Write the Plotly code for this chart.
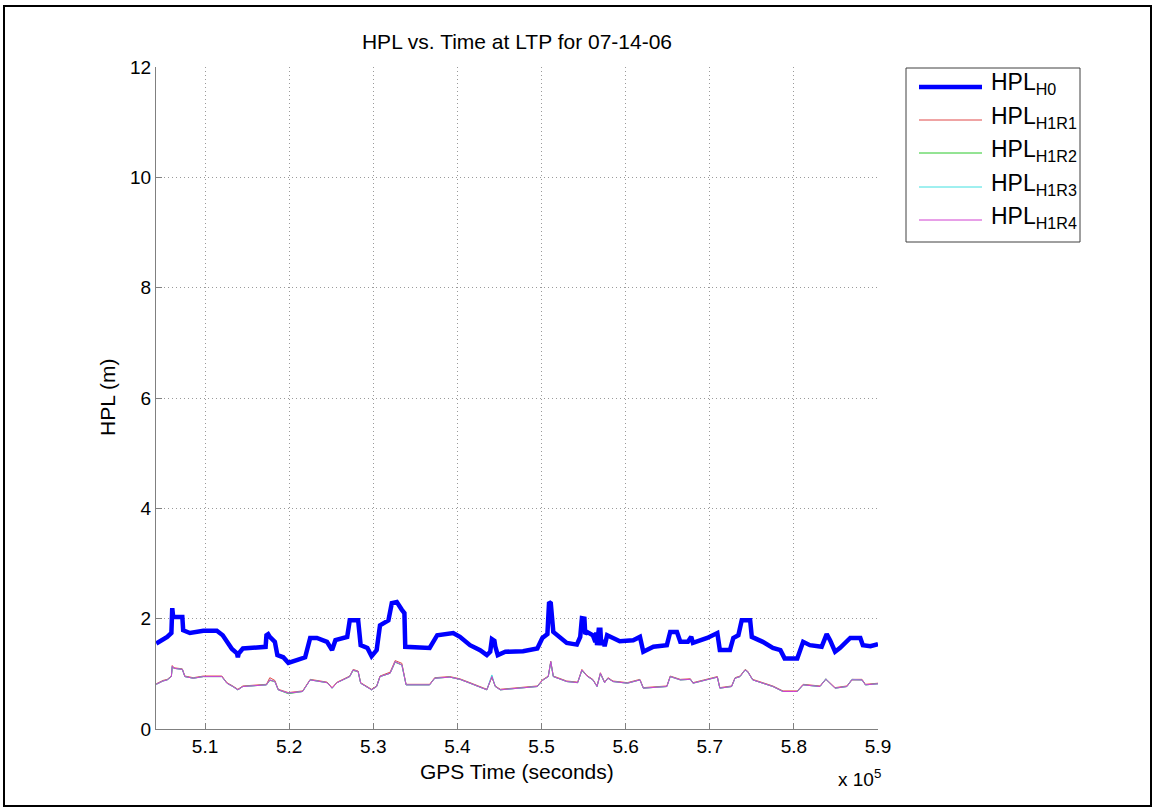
import plotly.graph_objects as go

# GPS time (s) and horizontal protection level (m), fault-free hypothesis H0
t_h0 = [504200, 505000, 505500, 506000, 506100, 506200, 506300, 507300, 507400, 508200,
        509800, 511400, 512100, 512700, 513200, 513800, 513900, 514000, 514500, 517200,
        517300, 517500, 517700, 518300, 518600, 519300, 519900, 520900, 521900, 522500,
        523300, 524500, 525100, 525500, 526900, 527200, 528200, 528500, 529300, 529800,
        530400, 530800, 531400, 531800, 532200, 532800, 533400, 533700, 533800, 535200,
        536700, 537600, 539100, 539500, 540300, 541500, 542700, 543500, 543900, 544100,
        544400, 544500, 544800, 545700, 547800, 549500, 550100, 550700, 550900, 551100,
        551400, 552200, 553000, 554200, 554600, 554800, 555100, 555200, 555400, 556100,
        556400, 556500, 556600, 556800, 557000, 557100, 557300, 557500, 557800, 558500,
        559300, 560900, 561700, 562100, 563300, 564900, 565300, 566100, 566500, 567400,
        567800, 568000, 569700, 570900, 571200, 572400, 572800, 573400, 573800, 574800,
        575000, 576300, 577500, 578400, 578900, 580400, 581100, 581900, 583300, 583900,
        584300, 584900, 585500, 586700, 587900, 588200, 589100, 590000]
hpl_h0 = [1.55, 1.62, 1.67, 1.74, 2.19, 2.05, 2.03, 2.03, 1.79, 1.74,
          1.78, 1.78, 1.70, 1.55, 1.45, 1.37, 1.30, 1.37, 1.46, 1.49,
          1.70, 1.72, 1.67, 1.58, 1.34, 1.30, 1.20, 1.25, 1.30, 1.65,
          1.65, 1.58, 1.43, 1.61, 1.67, 1.97, 1.97, 1.52, 1.47, 1.32,
          1.43, 1.88, 1.94, 1.97, 2.28, 2.30, 2.16, 2.10, 1.49, 1.49,
          1.47, 1.70, 1.74, 1.74, 1.67, 1.52, 1.43, 1.34, 1.40, 1.63,
          1.60, 1.50, 1.34, 1.40, 1.41, 1.46, 1.65, 1.72, 2.30, 2.28,
          1.76, 1.67, 1.56, 1.53, 1.67, 2.01, 2.00, 1.72, 1.76, 1.70,
          1.58, 1.75, 1.52, 1.80, 1.80, 1.52, 1.61, 1.50, 1.70, 1.65,
          1.59, 1.61, 1.67, 1.40, 1.49, 1.52, 1.76, 1.76, 1.58, 1.58,
          1.67, 1.56, 1.65, 1.74, 1.43, 1.43, 1.65, 1.70, 1.97, 1.97,
          1.67, 1.58, 1.47, 1.43, 1.28, 1.28, 1.58, 1.52, 1.49, 1.72,
          1.61, 1.40, 1.47, 1.65, 1.65, 1.52, 1.50, 1.54]

# GPS time (s) for the four single-receiver-fault hypotheses H1R1..H1R4
t_h1 = [504200, 505000, 505500, 506000, 506100, 506300, 507300, 507600, 508600, 509800,
        512000, 512600, 513300, 513900, 514500, 517300, 517700, 518300, 518700, 519900,
        521600, 522500, 524500, 525100, 525700, 527200, 527600, 528200, 528500, 529800,
        530400, 530800, 532000, 532600, 533400, 533900, 536700, 537300, 539100, 540300,
        541500, 543500, 544100, 544500, 545100, 549500, 550100, 550800, 551100, 551400,
        553000, 554300, 554800, 555400, 556100, 556600, 557000, 557500, 557900, 558500,
        560200, 561700, 562100, 564900, 565300, 566500, 567700, 568000, 570900, 571200,
        572600, 573000, 573600, 574200, 574500, 575100, 577500, 578700, 580400, 581100,
        583100, 583800, 584900, 586300, 586900, 588100, 588500, 590000]
hpl_h1r1 = [0.82, 0.88, 0.90, 0.96, 1.15, 1.11, 1.09, 0.96, 0.93, 0.96,
            0.96, 0.84, 0.78, 0.72, 0.78, 0.81, 0.93, 0.88, 0.72, 0.66,
            0.69, 0.90, 0.85, 0.75, 0.85, 0.96, 1.08, 1.05, 0.84, 0.72,
            0.78, 0.96, 1.03, 1.24, 1.19, 0.81, 0.81, 0.93, 0.95, 0.91,
            0.84, 0.72, 0.94, 0.78, 0.72, 0.78, 0.89, 0.96, 1.23, 0.96,
            0.87, 0.85, 1.08, 0.97, 0.90, 0.78, 1.02, 0.85, 0.93, 0.87,
            0.84, 0.90, 0.75, 0.78, 0.96, 0.90, 0.91, 0.84, 0.95, 0.75,
            0.78, 0.93, 0.96, 1.08, 1.05, 0.90, 0.78, 0.69, 0.69, 0.81,
            0.78, 0.91, 0.75, 0.78, 0.90, 0.90, 0.81, 0.83]
hpl_h1r2 = [0.81, 0.87, 0.89, 0.95, 1.13, 1.10, 1.08, 0.95, 0.92, 0.95,
            0.95, 0.83, 0.77, 0.71, 0.77, 0.80, 0.88, 0.86, 0.71, 0.64,
            0.68, 0.89, 0.84, 0.74, 0.84, 0.95, 1.06, 1.04, 0.83, 0.71,
            0.77, 0.95, 1.01, 1.21, 1.16, 0.80, 0.80, 0.92, 0.94, 0.90,
            0.83, 0.71, 0.95, 0.77, 0.71, 0.77, 0.88, 0.95, 1.21, 0.95,
            0.86, 0.84, 1.06, 0.96, 0.89, 0.77, 1.00, 0.84, 0.92, 0.86,
            0.83, 0.89, 0.74, 0.77, 0.95, 0.89, 0.90, 0.83, 0.94, 0.74,
            0.77, 0.92, 0.95, 1.07, 1.04, 0.89, 0.77, 0.68, 0.68, 0.80,
            0.77, 0.90, 0.74, 0.77, 0.89, 0.89, 0.80, 0.82]
hpl_h1r3 = [0.81, 0.87, 0.89, 0.95, 1.14, 1.10, 1.08, 0.95, 0.92, 0.95,
            0.95, 0.83, 0.77, 0.71, 0.77, 0.80, 0.89, 0.86, 0.71, 0.65,
            0.68, 0.89, 0.84, 0.74, 0.84, 0.95, 1.07, 1.04, 0.83, 0.71,
            0.77, 0.95, 1.01, 1.22, 1.16, 0.80, 0.80, 0.92, 0.94, 0.90,
            0.83, 0.71, 0.98, 0.77, 0.71, 0.77, 0.88, 0.95, 1.22, 0.95,
            0.86, 0.84, 1.07, 0.96, 0.89, 0.77, 1.01, 0.84, 0.92, 0.86,
            0.83, 0.89, 0.74, 0.77, 0.95, 0.89, 0.90, 0.83, 0.94, 0.74,
            0.77, 0.92, 0.95, 1.07, 1.04, 0.89, 0.77, 0.68, 0.68, 0.80,
            0.77, 0.91, 0.74, 0.77, 0.90, 0.89, 0.80, 0.82]
hpl_h1r4 = [0.81, 0.87, 0.89, 0.95, 1.14, 1.10, 1.08, 0.95, 0.92, 0.95,
            0.95, 0.83, 0.77, 0.71, 0.77, 0.80, 0.89, 0.86, 0.71, 0.65,
            0.68, 0.89, 0.84, 0.74, 0.84, 0.95, 1.07, 1.04, 0.83, 0.71,
            0.77, 0.95, 1.01, 1.22, 1.16, 0.80, 0.80, 0.92, 0.94, 0.90,
            0.83, 0.71, 0.95, 0.77, 0.71, 0.77, 0.88, 0.95, 1.22, 0.95,
            0.86, 0.84, 1.07, 0.96, 0.89, 0.77, 1.01, 0.84, 0.92, 0.86,
            0.83, 0.89, 0.74, 0.77, 0.95, 0.89, 0.90, 0.83, 0.94, 0.74,
            0.77, 0.92, 0.95, 1.07, 1.04, 0.89, 0.77, 0.68, 0.68, 0.80,
            0.77, 0.90, 0.74, 0.77, 0.89, 0.89, 0.80, 0.82]

x_ticks = [510000, 520000, 530000, 540000, 550000, 560000, 570000, 580000, 590000]
x_tick_text = ["5.1", "5.2", "5.3", "5.4", "5.5", "5.6", "5.7", "5.8", "5.9"]
y_ticks = [0, 2, 4, 6, 8, 10, 12]

series_names = ["HPL<sub>H0</sub>", "HPL<sub>H1R1</sub>", "HPL<sub>H1R2</sub>",
                "HPL<sub>H1R3</sub>", "HPL<sub>H1R4</sub>"]
series_colors = ["#0000ff", "#e04848", "#28c828", "#40e0e0", "#d040d0"]
series_widths = [4.5, 1, 1, 1, 1]

FONT = "Liberation Sans, Arial, sans-serif"
TICK_SIZE = 19
LABEL_SIZE = 21
LEGEND_SIZE = 23

fig = go.Figure()
fig.add_trace(go.Scatter(x=t_h0, y=hpl_h0, mode="lines", name=series_names[0],
                         line=dict(color=series_colors[0], width=series_widths[0])))
for name, col, w, vals in zip(series_names[1:], series_colors[1:], series_widths[1:],
                              [hpl_h1r1, hpl_h1r2, hpl_h1r3, hpl_h1r4]):
    fig.add_trace(go.Scatter(x=t_h1, y=vals, mode="lines", name=name,
                             line=dict(color=col, width=w)))

# plot area in pixels
L, R, T, B = 156, 878, 67, 729
W, H = 1156, 811
pw, ph = R - L, B - T


def px(xp):
    return (xp - L) / pw


def py(yp):
    return (B - yp) / ph


shapes = []
annotations = []

# outer frame around the whole figure
shapes.append(dict(type="rect", xref="paper", yref="paper",
                   x0=px(4), x1=px(1151), y0=py(806), y1=py(6),
                   line=dict(color="black", width=2)))

# hand-drawn legend box
lx0, lx1, ly0, ly1 = 906, 1080, 68, 242
shapes.append(dict(type="rect", xref="paper", yref="paper",
                   x0=px(lx0), x1=px(lx1), y0=py(ly1), y1=py(ly0),
                   line=dict(color="#404040", width=1), fillcolor="white"))
row_y = [87, 120, 153, 187, 220]
for name, col, w, ry in zip(series_names, series_colors, series_widths, row_y):
    shapes.append(dict(type="line", xref="paper", yref="paper",
                       x0=px(919), x1=px(982), y0=py(ry), y1=py(ry),
                       line=dict(color=col, width=w)))
    annotations.append(dict(xref="paper", yref="paper", x=px(989), y=py(ry - 3),
                            xanchor="left", yanchor="middle", showarrow=False,
                            text=name, font=dict(family=FONT, size=LEGEND_SIZE, color="black")))

# axis labels, exponent
annotations.append(dict(xref="paper", yref="paper", x=0.5, y=py(771),
                        xanchor="center", yanchor="middle", showarrow=False,
                        text="GPS Time (seconds)",
                        font=dict(family=FONT, size=LABEL_SIZE, color="black")))
annotations.append(dict(xref="paper", yref="paper", x=px(107), y=0.5,
                        xanchor="center", yanchor="middle", showarrow=False,
                        textangle=-90, text="HPL (m)",
                        font=dict(family=FONT, size=LABEL_SIZE, color="black")))
annotations.append(dict(xref="paper", yref="paper", x=px(836), y=py(778),
                        xanchor="left", yanchor="middle", showarrow=False,
                        text="x 10<sup>5</sup>",
                        font=dict(family=FONT, size=TICK_SIZE, color="black")))

fig.update_layout(
    width=W, height=H,
    margin=dict(l=L, r=W - R, t=T, b=H - B, pad=0),
    paper_bgcolor="white", plot_bgcolor="white",
    showlegend=False,
    title=dict(text="HPL vs. Time at LTP for 07-14-06", x=(L + R) / 2 / W, xanchor="center",
               y=1 - 42 / H, yanchor="middle", yref="container",
               font=dict(family=FONT, size=LABEL_SIZE, color="black")),
    font=dict(family=FONT, size=TICK_SIZE, color="black"),
    shapes=shapes, annotations=annotations,
)
fig.update_xaxes(range=[504170, 590000], tickvals=x_ticks, ticktext=x_tick_text,
                 showline=True, linecolor="#808080", linewidth=1, mirror=False,
                 ticks="inside", ticklen=6, tickcolor="#808080",
                 showgrid=True, gridcolor="#9a9a9a", griddash="1px,3px", gridwidth=1,
                 zeroline=False, tickfont=dict(family=FONT, size=TICK_SIZE, color="black"))
fig.update_yaxes(range=[0, 12], tickvals=y_ticks,
                 showline=True, linecolor="#808080", linewidth=1, mirror=False,
                 ticks="inside", ticklen=6, tickcolor="#808080",
                 showgrid=True, gridcolor="#9a9a9a", griddash="1px,3px", gridwidth=1,
                 zeroline=False, tickfont=dict(family=FONT, size=TICK_SIZE, color="black"))

fig.write_html("out.html")
